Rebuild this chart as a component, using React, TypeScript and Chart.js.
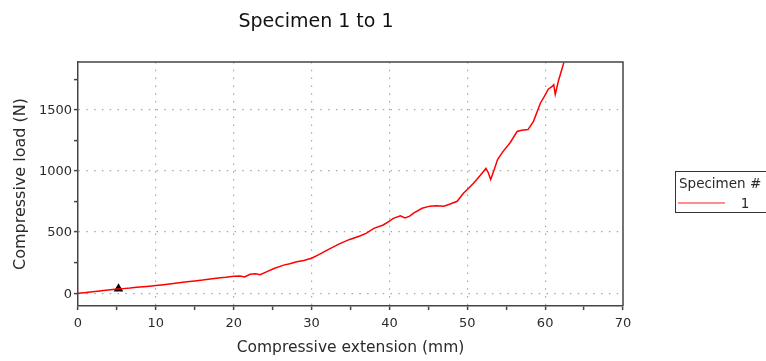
import React, { useEffect, useRef } from 'react';
import { Chart, registerables } from 'chart.js';

Chart.register(...registerables);

const chartTitle = 'Specimen 1 to 1';
const xAxisTitle = 'Compressive extension (mm)';
const yAxisTitle = 'Compressive load (N)';
const legendTitle = 'Specimen #';
const seriesLabel = '1';

const extension = [
  0, 0.8, 1.6, 2.5, 3.3, 4.2, 5.0, 5.8, 6.7, 7.5, 8.4, 9.2, 10.0, 11.0, 12.0, 13.0,
  14.0, 15.0, 16.0, 17.0, 18.0, 19.0, 20.0, 20.8, 21.4, 22.1, 22.8, 23.4, 24.2, 25.1,
  26.4, 27.2, 28.1, 29.0, 30.0, 31.0, 32.0, 33.0, 33.7, 34.9, 36.2, 37.0, 38.0, 39.2,
  40.0, 40.5, 41.4, 42.0, 42.6, 43.1, 44.2, 45.2, 46.0, 47.0, 47.8, 48.7, 49.5, 50.2,
  50.8, 51.6, 52.4, 52.7, 53.0, 53.4, 53.9, 54.6, 55.5, 56.4, 57.0, 57.8, 58.5, 59.4,
  59.9, 60.4, 60.9, 61.1, 61.3, 61.7, 62.1, 62.4,
];
const load = [
  0, 5, 10, 16, 22, 28, 34, 38, 43, 49, 54, 58, 63, 70, 78, 86,
  95, 101, 108, 117, 124, 131, 140, 142, 134, 155, 160, 152, 175, 200,
  230, 242, 258, 268, 286, 318, 352, 385, 408, 440, 468, 490, 530, 558,
  590, 612, 633, 615, 630, 655, 695, 712, 716, 712, 730, 752, 818, 860,
  900, 958, 1020, 985, 930, 1000, 1095, 1160, 1230, 1322, 1332, 1338, 1405, 1555,
  1610, 1668, 1690, 1705, 1625, 1735, 1820, 1885,
];

const markerExtension = [5.2];
const markerLoad = [36];

const xTickValues = [0, 5, 10, 15, 20, 25, 30, 35, 40, 45, 50, 55, 60, 65, 70];
const xLabelValues = [0, 10, 20, 30, 40, 50, 60, 70];
const yTickValues = [0, 250, 500, 750, 1000, 1250, 1500, 1750];
const yLabelValues = [0, 500, 1000, 1500];

const FONT = "'DejaVu Sans', Verdana, sans-serif";
const AXIS_COLOR = '#444444';
const GRID_COLOR = '#a8a8a0';
const TEXT_COLOR = '#2b2b2b';
const LINE_COLOR = 'rgb(255,0,0)';

const framePlugin = {
  id: 'frameAndDecor',
  afterDraw(chart: any) {
    const { ctx, chartArea } = chart;
    ctx.save();
    ctx.strokeStyle = AXIS_COLOR;
    ctx.lineWidth = 1.5;
    ctx.beginPath();
    ctx.moveTo(chartArea.left, chartArea.top);
    ctx.lineTo(chartArea.right, chartArea.top);
    ctx.lineTo(chartArea.right, chartArea.bottom);
    ctx.stroke();

    ctx.fillStyle = '#111111';
    ctx.font = `19px ${FONT}`;
    ctx.textAlign = 'center';
    ctx.textBaseline = 'alphabetic';
    ctx.fillText(chartTitle, 316, 26.5);

    ctx.strokeStyle = '#333333';
    ctx.lineWidth = 1;
    ctx.strokeRect(675.5, 171.5, 110, 41);
    ctx.fillStyle = TEXT_COLOR;
    ctx.font = `13.5px ${FONT}`;
    ctx.textAlign = 'left';
    ctx.fillText(legendTitle, 679, 187.5);
    const ds = chart.data.datasets[0];
    ctx.strokeStyle = ds.borderColor;
    ctx.globalAlpha = 0.6;
    ctx.lineWidth = 1.5;
    ctx.beginPath();
    ctx.moveTo(678, 203);
    ctx.lineTo(725, 203);
    ctx.stroke();
    ctx.globalAlpha = 1;
    ctx.textAlign = 'center';
    ctx.fillText(ds.label, 745, 208.3);
    ctx.restore();
  },
};

export default function App() {
  const canvasRef = useRef<HTMLCanvasElement | null>(null);

  useEffect(() => {
    document.body.style.margin = '0';
    const canvas = canvasRef.current;
    if (!canvas) return;
    const lineData = extension.map((x, i) => ({ x, y: load[i] }));
    const markerData = markerExtension.map((x, i) => ({ x, y: markerLoad[i] }));

    const chart = new Chart(canvas, {
      type: 'line',
      data: {
        datasets: [
          {
            label: seriesLabel,
            data: lineData,
            borderColor: LINE_COLOR,
            backgroundColor: LINE_COLOR,
            borderWidth: 1.5,
            pointRadius: 0,
            tension: 0,
            fill: false,
          },
          {
            label: 'marker',
            data: markerData,
            showLine: false,
            pointStyle: 'triangle',
            pointRadius: 5.5,
            pointBackgroundColor: '#000000',
            pointBorderColor: '#000000',
            borderWidth: 0,
          },
        ],
      },
      options: {
        responsive: false,
        animation: false,
        devicePixelRatio: 1,
        layout: { padding: { top: 62, right: 143, left: 0, bottom: 0 } },
        plugins: {
          legend: { display: false },
          title: { display: false },
          tooltip: { enabled: false },
        },
        scales: {
          x: {
            type: 'linear',
            min: 0,
            max: 70,
            afterFit: (scale: any) => {
              scale.height = 55;
            },
            afterBuildTicks: (scale: any) => {
              scale.ticks = xTickValues.map((v) => ({ value: v }));
            },
            ticks: {
              autoSkip: false,
              maxRotation: 0,
              padding: 6,
              color: TEXT_COLOR,
              font: { family: FONT, size: 13 },
              callback: (v: any) => (xLabelValues.includes(Number(v)) ? String(v) : ''),
            },
            grid: {
              color: (c: any) =>
                c.tick && xLabelValues.includes(c.tick.value) && c.tick.value !== 0 && c.tick.value !== 70
                  ? GRID_COLOR
                  : 'rgba(0,0,0,0)',
              tickColor: AXIS_COLOR,
              tickLength: 4,
              tickWidth: 1.5,
              lineWidth: 1.2,
            },
            border: { display: true, color: AXIS_COLOR, width: 1.5, dash: [1.5, 6.3] },
            title: {
              display: true,
              text: xAxisTitle,
              color: TEXT_COLOR,
              font: { family: FONT, size: 15.5 },
              padding: { top: 0, bottom: 4 },
            },
          },
          y: {
            type: 'linear',
            min: -104,
            max: 1890,
            afterFit: (scale: any) => {
              scale.width = 78;
            },
            afterBuildTicks: (scale: any) => {
              scale.ticks = yTickValues.map((v) => ({ value: v }));
            },
            ticks: {
              autoSkip: false,
              padding: 2,
              labelOffset: 1,
              color: TEXT_COLOR,
              font: { family: FONT, size: 13 },
              callback: (v: any) => (yLabelValues.includes(Number(v)) ? String(v) : ''),
            },
            grid: {
              color: (c: any) =>
                c.tick && yLabelValues.includes(c.tick.value) ? GRID_COLOR : 'rgba(0,0,0,0)',
              tickColor: AXIS_COLOR,
              tickLength: 4,
              tickWidth: 1.5,
              lineWidth: 1.2,
            },
            border: { display: true, color: AXIS_COLOR, width: 1.5, dash: [1.5, 6.3] },
            title: {
              display: true,
              text: yAxisTitle,
              color: TEXT_COLOR,
              font: { family: FONT, size: 16 },
              padding: { top: 11, bottom: 0 },
            },
          },
        },
      },
      plugins: [framePlugin],
    } as any);

    return () => {
      chart.destroy();
    };
  }, []);

  return (
    <canvas
      ref={canvasRef}
      width={766}
      height={361}
      style={{ display: 'block', width: '766px', height: '361px' }}
    />
  );
}
